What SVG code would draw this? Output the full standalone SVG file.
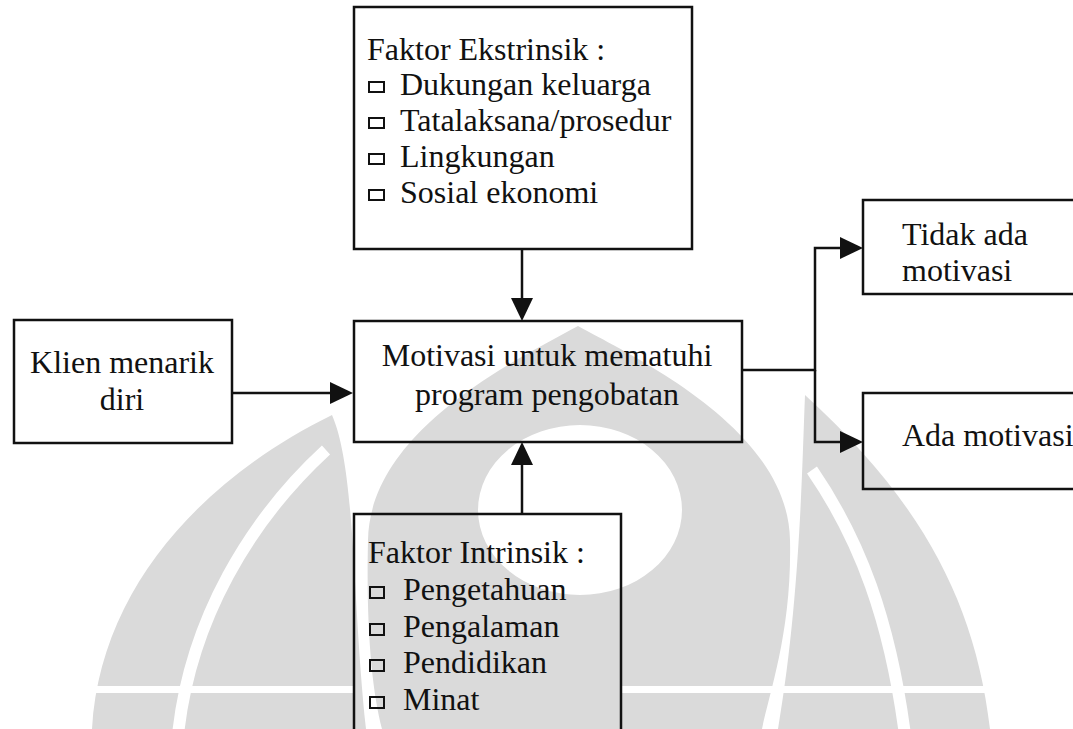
<svg xmlns="http://www.w3.org/2000/svg" width="1073" height="729" viewBox="0 0 1073 729">
<defs>
<style>
.box{fill:none;stroke:#111;stroke-width:2.5}
.con{fill:none;stroke:#111;stroke-width:2.5}
.t{font-family:"Liberation Serif","Times New Roman",serif;font-size:32px;fill:#111}
.c{text-anchor:middle}
.bul{fill:none;stroke:#111;stroke-width:2}
.wm{fill:#dadada}
.gap{fill:none;stroke:#fff;stroke-width:12}
</style>
<marker id="ah" markerUnits="userSpaceOnUse" markerWidth="23" markerHeight="22" refX="19" refY="11" orient="auto">
<path d="M0,0 L23,11 L0,22 Z" fill="#111"/>
</marker>
</defs>
<rect width="1073" height="729" fill="#fff"/>
<g id="watermark">
<path class="wm" fill-rule="evenodd" d="M578,326 C640,360 788,430 790,540 C792,630 770,690 762,729 L382,729 C372,690 366,630 368,540 C370,430 516,360 578,326 Z M478,510 A102,85 0 1,0 682,510 A102,85 0 1,0 478,510 Z"/>
<path class="wm" d="M92,729 C100,590 200,480 332,415 C356,470 352,600 366,729 Z"/>
<path class="wm" d="M990,729 C975,600 920,500 805,395 C802,470 800,600 778,729 Z"/>
<path class="gap" d="M178,735 C190,620 250,520 326,450"/>
<path class="gap" d="M905,735 C890,620 860,540 812,470"/>
<rect x="95" y="686" width="260" height="7" fill="#fff"/>
<rect x="622" y="686" width="375" height="7" fill="#fff"/>
</g>
<g id="connectors">
<path class="con" d="M522,249 V317" marker-end="url(#ah)"/>
<path class="con" d="M522,514 V446" marker-end="url(#ah)"/>
<path class="con" d="M232,393 H349" marker-end="url(#ah)"/>
<path class="con" d="M742,370 H815 V248 H859" marker-end="url(#ah)"/>
<path class="con" d="M815,370 V442 H859" marker-end="url(#ah)"/>
</g>
<g id="ekstrinsik">
<rect class="box" x="354" y="7" width="338" height="242"/>
<text class="t" x="367" y="60">Faktor Ekstrinsik :</text>
<rect class="bul" x="369" y="82" width="15" height="10"/>
<text class="t" x="400" y="95">Dukungan keluarga</text>
<rect class="bul" x="369" y="118" width="15" height="10"/>
<text class="t" x="400" y="131">Tatalaksana/prosedur</text>
<rect class="bul" x="369" y="154" width="15" height="10"/>
<text class="t" x="400" y="167">Lingkungan</text>
<rect class="bul" x="369" y="190" width="15" height="10"/>
<text class="t" x="400" y="203">Sosial ekonomi</text>
</g>
<g id="klien">
<rect class="box" x="14" y="320" width="218" height="123"/>
<text class="t c" x="122" y="373">Klien menarik</text>
<text class="t c" x="122" y="410">diri</text>
</g>
<g id="motivasi">
<rect class="box" x="354" y="321" width="388" height="121"/>
<text class="t c" x="547" y="366">Motivasi untuk mematuhi</text>
<text class="t c" x="547" y="405">program pengobatan</text>
</g>
<g id="intrinsik">
<rect class="box" x="354" y="514" width="267" height="240"/>
<text class="t" x="368" y="563">Faktor Intrinsik :</text>
<rect class="bul" x="370" y="587" width="14" height="11"/>
<text class="t" x="403" y="600">Pengetahuan</text>
<rect class="bul" x="370" y="624" width="14" height="11"/>
<text class="t" x="403" y="637">Pengalaman</text>
<rect class="bul" x="370" y="660" width="14" height="11"/>
<text class="t" x="403" y="673">Pendidikan</text>
<rect class="bul" x="370" y="697" width="14" height="11"/>
<text class="t" x="403" y="710">Minat</text>
</g>
<g id="tidak">
<rect class="box" x="863" y="200" width="240" height="94"/>
<text class="t" x="902" y="245">Tidak ada</text>
<text class="t" x="902" y="281">motivasi</text>
</g>
<g id="ada">
<rect class="box" x="863" y="393" width="240" height="96"/>
<text class="t" x="902" y="446">Ada motivasi</text>
</g>
</svg>
